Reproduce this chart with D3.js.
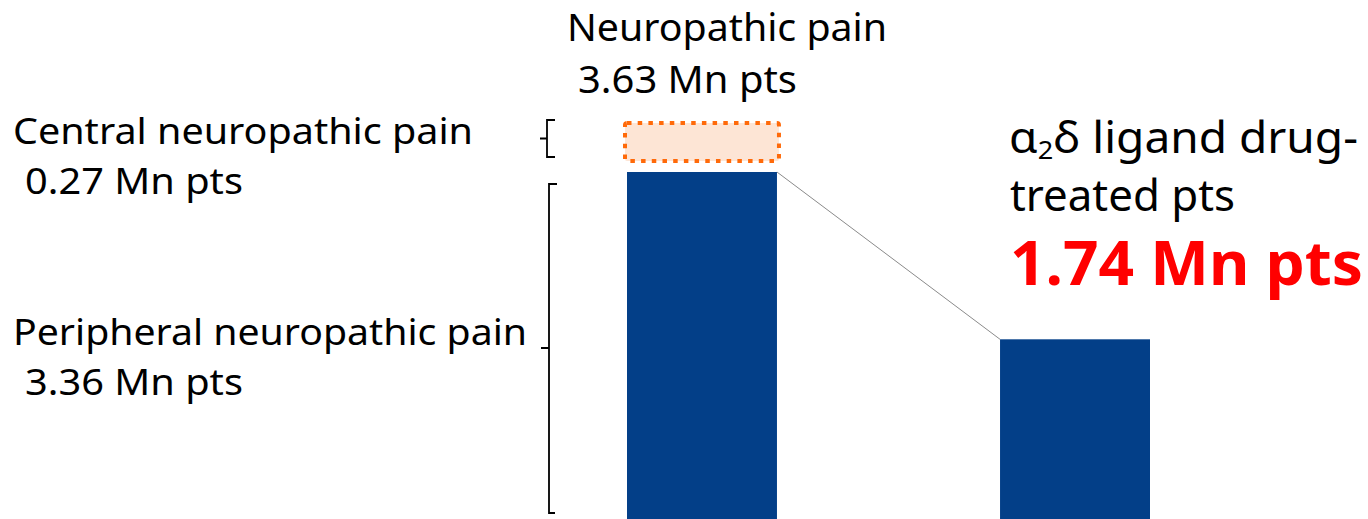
<!DOCTYPE html>
<html>
<head>
<meta charset="utf-8">
<script src="https://cdn.jsdelivr.net/npm/d3@7"></script>
<style>
  html, body { margin: 0; padding: 0; background: #ffffff; }
  svg { display: block; font-family: "Noto Sans", "Open Sans", sans-serif; }
</style>
</head>
<body>
<script>
// ---------- data ----------
const categories = ["Neuropathic pain", "α2δ ligand drug-treated pts"];
const barValues = [3.36, 1.74];          // peripheral NP, α2δ ligand drug-treated
const centralValue = 0.27;               // central NP (stacked, dashed box)
const totalValue = 3.63;                 // neuropathic pain total
const topLabel = ["Neuropathic pain", "3.63 Mn pts"];
const centralLabel = ["Central neuropathic pain", "0.27 Mn pts"];
const peripheralLabel = ["Peripheral neuropathic pain", "3.36 Mn pts"];
const rightLabel = ["α", "2", "δ ligand drug-", "treated pts", "1.74 Mn pts"];

// ---------- layout ----------
const W = 1368, H = 519;
const svg = d3.select("body").append("svg").attr("width", W).attr("height", H);

const x = d3.scaleBand().domain(categories).range([627, 1150]).paddingInner(0.598).paddingOuter(0);
const bw = x.bandwidth();
// broken (piecewise) value scale: the small central segment is drawn exaggerated
const y = d3.scaleLinear().domain([0, barValues[0], totalValue]).range([519, 172, 123]);

// connector line
svg.append("line")
  .attr("x1", x(categories[0]) + bw).attr("y1", y(barValues[0]))
  .attr("x2", x(categories[1])).attr("y2", y(barValues[1]))
  .attr("stroke", "#8a8a8a").attr("stroke-width", 1);

// bars
svg.selectAll("rect.bar").data(barValues).join("rect")
  .attr("class", "bar")
  .attr("x", (d, i) => x(categories[i]))
  .attr("y", d => y(d))
  .attr("width", bw)
  .attr("height", d => y(0) - y(d))
  .attr("fill", "#033f88");

// central NP dashed box
const boxTop = y(barValues[0] + centralValue);
const boxBottom = y(barValues[0]) - 11;
svg.append("rect")
  .attr("x", x(categories[0]) - 2).attr("y", boxTop)
  .attr("width", bw + 4).attr("height", boxBottom - boxTop)
  .attr("rx", 2)
  .attr("fill", "#fde5d5")
  .attr("stroke", "#ff6a0a").attr("stroke-width", 4)
  .attr("stroke-dasharray", "4.5 6.2");

// brackets
const br = svg.append("g").attr("fill", "none").attr("stroke", "#000").attr("stroke-width", 1.8);
// central brace
const cTop = boxTop - 3, cBot = boxBottom - 4, cMid = (cTop + cBot) / 2;
br.append("path").attr("d", `M555,${cTop}H547V${cBot}H555M540,${cMid}H547`);
// peripheral bracket
const pTop = y(barValues[0]) + 12, pBot = 513, pMid = 348;
br.append("path").attr("d", `M557,${pTop}H549V${pBot}H555M541,${pMid}H549`);

// ---------- text ----------
function addText(tx, ty, str, size, len, opts = {}) {
  return svg.append("text")
    .attr("x", tx).attr("y", ty)
    .attr("font-size", size)
    .attr("font-weight", opts.weight || 400)
    .attr("fill", opts.color || "#000")
    .attr("textLength", len)
    .attr("lengthAdjust", "spacingAndGlyphs")
    .text(str);
}

addText(567, 41, topLabel[0], 38, 320);
addText(578, 93, topLabel[1], 38, 219);

addText(13, 144, centralLabel[0], 37, 460);
addText(25, 194, centralLabel[1], 37, 218);

addText(13, 345, peripheralLabel[0], 37, 514);
addText(25, 395, peripheralLabel[1], 37, 218);

// right annotation
const t1 = svg.append("text").attr("x", 1009).attr("y", 153)
  .attr("font-size", 44).attr("fill", "#000")
  .attr("textLength", 349).attr("lengthAdjust", "spacingAndGlyphs");
t1.append("tspan").text(rightLabel[0]);
t1.append("tspan").attr("font-size", 26).attr("dy", 6).text(rightLabel[1]);
t1.append("tspan").attr("dy", -6).text(rightLabel[2]);

addText(1010, 211, rightLabel[3], 44, 225);
addText(1010, 285, rightLabel[4], 61, 353, { weight: 700, color: "#ff0000" });
</script>
</body>
</html>
